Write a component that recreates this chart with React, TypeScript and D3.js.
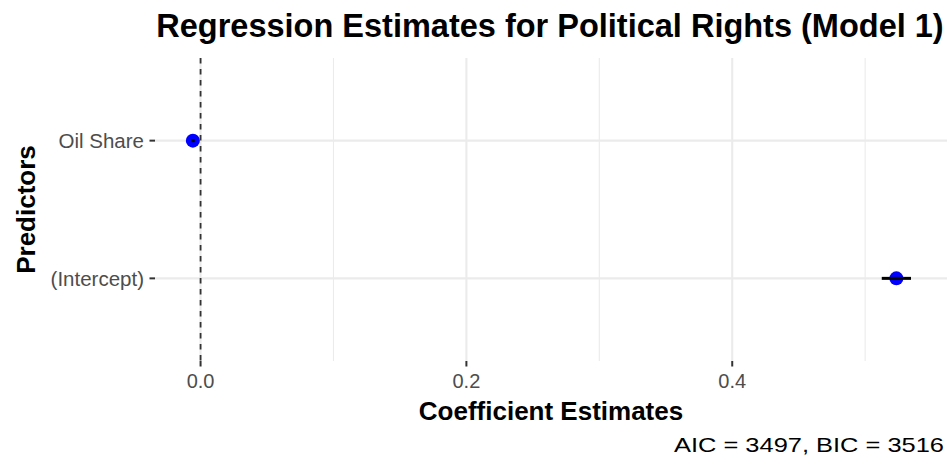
import React from "react";
import * as d3 from "d3";

const predictors = ["(Intercept)", "Oil Share"];
const estimates = [0.5235, -0.0058];
const lowerCI = [0.5125, -0.0072];
const upperCI = [0.5345, -0.0044];
const majorTicks = [0, 0.2, 0.4];
const minorTicks = [0.1, 0.3, 0.5];
const titleText = "Regression Estimates for Political Rights (Model 1)";
const xTitle = "Coefficient Estimates";
const yTitle = "Predictors";
const captionParts = ["AIC", "=", "3497, BIC", "=", "3516"];

const W = 949;
const H = 461;
const panel = { left: 155, right: 947, top: 58, bottom: 361 };
const FONT = "'Liberation Sans', Arial, Helvetica, sans-serif";

export default function App() {
  const lo = d3.min(lowerCI) as number;
  const hi = d3.max(upperCI) as number;
  const pad = (hi - lo) * 0.05;
  const x = d3.scaleLinear().domain([lo - pad, hi + pad]).range([panel.left, panel.right]);
  const y = d3
    .scalePoint<string>()
    .domain(predictors)
    .range([panel.bottom, panel.top])
    .padding(0.6);
  const fmt = d3.format(".1f");
  const cx = (panel.left + panel.right) / 2;
  const cy = (panel.top + panel.bottom) / 2;

  return (
    <svg
      width={W}
      height={H}
      style={{ position: "absolute", left: 0, top: 0, background: "#fff" }}
      fontFamily={FONT}
    >
      <rect x={0} y={0} width={W} height={H} fill="#fff" />
      {minorTicks.map((t) => (
        <line key={"mn" + t} x1={x(t)} x2={x(t)} y1={panel.top} y2={panel.bottom} stroke="#EBEBEB" strokeWidth={1.1} />
      ))}
      {majorTicks.map((t) => (
        <line key={"mj" + t} x1={x(t)} x2={x(t)} y1={panel.top} y2={panel.bottom} stroke="#EBEBEB" strokeWidth={2.1} />
      ))}
      {predictors.map((p) => (
        <line key={"hg" + p} x1={panel.left} x2={panel.right} y1={y(p)} y2={y(p)} stroke="#EBEBEB" strokeWidth={2.1} />
      ))}
      <line x1={x(0)} x2={x(0)} y1={panel.top} y2={panel.bottom} stroke="#333333" strokeWidth={1.8} strokeDasharray="5.5,5.5" />
      {predictors.map((p, i) => (
        <circle key={"pt" + p} cx={x(estimates[i])} cy={y(p)} r={7} fill="#0000FF" />
      ))}
      {predictors.map((p, i) => (
        <line
          key={"eb" + p}
          x1={x(lowerCI[i])}
          x2={x(upperCI[i])}
          y1={y(p)}
          y2={y(p)}
          stroke="#000"
          strokeWidth={3}
        />
      ))}
      {majorTicks.map((t) => (
        <g key={"xt" + t}>
          <line x1={x(t)} x2={x(t)} y1={panel.bottom} y2={panel.bottom + 5.5} stroke="#333333" strokeWidth={2} />
          <text x={x(t)} y={388} textAnchor="middle" fontSize={20} fill="#4D4D4D">
            {fmt(t)}
          </text>
        </g>
      ))}
      {predictors.map((p) => (
        <g key={"yt" + p}>
          <line x1={panel.left - 5.5} x2={panel.left} y1={y(p)} y2={y(p)} stroke="#333333" strokeWidth={2} />
          <text x={panel.left - 11} y={(y(p) as number) + 7.2} textAnchor="end" fontSize={20.5} fill="#4D4D4D">
            {p}
          </text>
        </g>
      ))}
      <text x={cx - 1} y={37} textAnchor="middle" fontSize={32.5} fontWeight="bold" fill="#000">
        {titleText}
      </text>
      <text x={cx} y={420} textAnchor="middle" fontSize={26} fontWeight="bold" fill="#000">
        {xTitle}
      </text>
      <text
        transform={`translate(35,${cy}) rotate(-90)`}
        textAnchor="middle"
        fontSize={26}
        fontWeight="bold"
        fill="#000"
      >
        {yTitle}
      </text>
      <text
        x={674}
        y={452}
        fontSize={21}
        fill="#000"
        textLength={270}
        lengthAdjust="spacingAndGlyphs"
        xmlSpace="preserve"
      >
        {captionParts.join(" ")}
      </text>
    </svg>
  );
}
